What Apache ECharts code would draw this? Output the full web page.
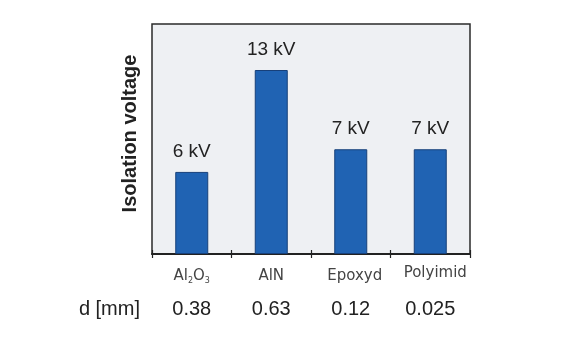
<!DOCTYPE html>
<html>
<head>
<meta charset="utf-8">
<script src="https://cdn.jsdelivr.net/npm/echarts@6/dist/echarts.min.js"></script>
<style>html,body{margin:0;padding:0;background:#fff;}#c{width:588px;height:346px;}</style>
</head>
<body>
<div id="c"></div>
<script>
var materials = ['Al2O3', 'AlN', 'Epoxyd', 'Polyimid'];
var voltageHeights = [5.8, 13, 7.4, 7.4];
var voltageLabels = ['6 kV', '13 kV', '7 kV', '7 kV'];
var thickness = ['0.38', '0.63', '0.12', '0.025'];
var thicknessTitle = 'd [mm]';
var yTitle = 'Isolation voltage';

var chart = echarts.init(document.getElementById('c'), null, {renderer: 'canvas'});
var font = 'Liberation Sans, Arial, sans-serif';
chart.setOption({
  backgroundColor: '#ffffff',
  animation: false,
  grid: {left: 152, right: 118, top: 24, bottom: 92, show: true,
         backgroundColor: '#eef0f3', borderColor: '#2a2a2a', borderWidth: 1.5},
  xAxis: [{
    type: 'category', data: materials, position: 'bottom',
    axisLine: {show: true, lineStyle: {color: '#222', width: 2}},
    axisTick: {show: true, length: 4, lineStyle: {color: '#222', width: 1.2}},
    axisLabel: {
      interval: 0, hideOverlap: false,
      margin: 13, color: '#444', fontFamily: 'DejaVu Sans', fontSize: 15,
      formatter: function (v) {
        if (v === 'Al2O3') return '{n|Al}{s|2}{n|O}{s|3}';
        if (v === 'Polyimid') return '{p|' + v + '}';
        if (v === 'Epoxyd') return '{e|' + v + '}';
        return '{n|' + v + '}';
      },
      rich: {
        n: {fontFamily: 'DejaVu Sans', fontSize: 15, color: '#444', lineHeight: 18},
        e: {fontFamily: 'DejaVu Sans', fontSize: 15, color: '#444', lineHeight: 18, padding: [0, 0, 0, 8]},
        p: {fontFamily: 'DejaVu Sans', fontSize: 15, color: '#444', lineHeight: 18, padding: [0, 0, 5, 10]},
        s: {fontFamily: 'DejaVu Sans', fontSize: 8, color: '#444', lineHeight: 8, verticalAlign: 'bottom'}
      }
    }
  }, {
    type: 'category', data: materials, position: 'bottom',
    axisLine: {show: false}, axisLabel: {show: false},
    axisTick: {show: true, inside: true, length: 4, lineStyle: {color: '#222', width: 1.2}}
  }, {
    type: 'category', data: thickness, position: 'bottom', offset: 55,
    axisLine: {show: false}, axisTick: {show: false},
    axisLabel: {interval: 0, margin: 0, verticalAlign: 'middle', color: '#222', fontFamily: font, fontSize: 20},
    name: thicknessTitle, nameLocation: 'start', nameGap: 12,
    nameTextStyle: {color: '#222', fontFamily: font, fontSize: 20}
  }],
  yAxis: {
    type: 'value', min: 0, max: 16.25,
    axisLine: {show: false}, axisTick: {show: false}, axisLabel: {show: false},
    splitLine: {show: false},
    name: yTitle, nameLocation: 'middle', nameGap: 12,
    nameTextStyle: {color: '#222', fontFamily: font, fontSize: 20, fontWeight: 'bold', padding: [0, 0, 0, 11]}
  },
  series: [{
    type: 'bar', data: voltageHeights, barWidth: 33, xAxisIndex: 0,
    itemStyle: {color: '#2063b3', borderColor: '#17407a', borderWidth: 1},
    label: {show: true, position: 'top', distance: 11, color: '#222',
            fontFamily: font, fontSize: 19,
            formatter: function (p) { return voltageLabels[p.dataIndex]; }}
  }]
});
</script>
</body>
</html>
